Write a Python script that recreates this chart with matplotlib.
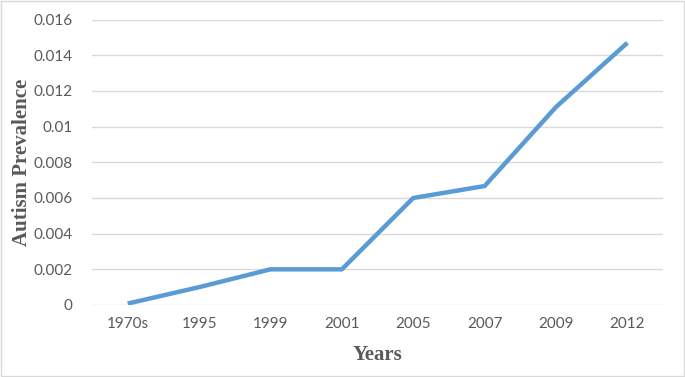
import matplotlib
matplotlib.use("Agg")
import matplotlib.pyplot as plt
from matplotlib.patches import Rectangle

categories = ["1970s", "1995", "1999", "2001", "2005", "2007", "2009", "2012"]
prevalence = [0.00008, 0.001, 0.002, 0.002, 0.006, 0.00667, 0.0111, 0.0147]
yticks = [0, 0.002, 0.004, 0.006, 0.008, 0.01, 0.012, 0.014, 0.016]
ytick_labels = ["0", "0.002", "0.004", "0.006", "0.008", "0.01", "0.012", "0.014", "0.016"]

fig = plt.figure(figsize=(6.85, 3.77), dpi=100)
ax = fig.add_axes([0.1343, 0.191, 0.968 - 0.1343, 0.948 - 0.191])

x = list(range(len(categories)))
ax.plot(x, prevalence, color="#5b9bd5", linewidth=3.2, solid_capstyle="butt", zorder=3)

ax.set_xlim(-0.5, len(categories) - 0.5)
ax.set_ylim(0, 0.016)
ax.set_yticks(yticks)
ax.set_yticklabels(ytick_labels)
ax.set_xticks(x)
ax.set_xticklabels(categories)
ax.yaxis.grid(True, color="#d9d9d9", linewidth=1)
ax.set_axisbelow(True)
for s in ax.spines.values():
    s.set_visible(False)
ax.tick_params(axis="both", length=0, labelsize=11, labelcolor="#595959")
ax.tick_params(axis="y", pad=14)
ax.tick_params(axis="x", pad=9)
for lab in ax.get_xticklabels() + ax.get_yticklabels():
    lab.set_family("Lato")

ax.set_ylabel("Autism Prevalence", fontfamily="Liberation Serif", fontweight="bold",
              fontsize=15, color="#595959", labelpad=1)
ax.set_xlabel("Years", fontfamily="Liberation Serif", fontweight="bold",
              fontsize=15, color="#595959", labelpad=10)

fig.patches.append(Rectangle((0.0015, 0.0027), 0.997, 0.995, transform=fig.transFigure,
                             fill=False, edgecolor="#d9d9d9", linewidth=1))

fig.savefig("out.png", dpi=100)
